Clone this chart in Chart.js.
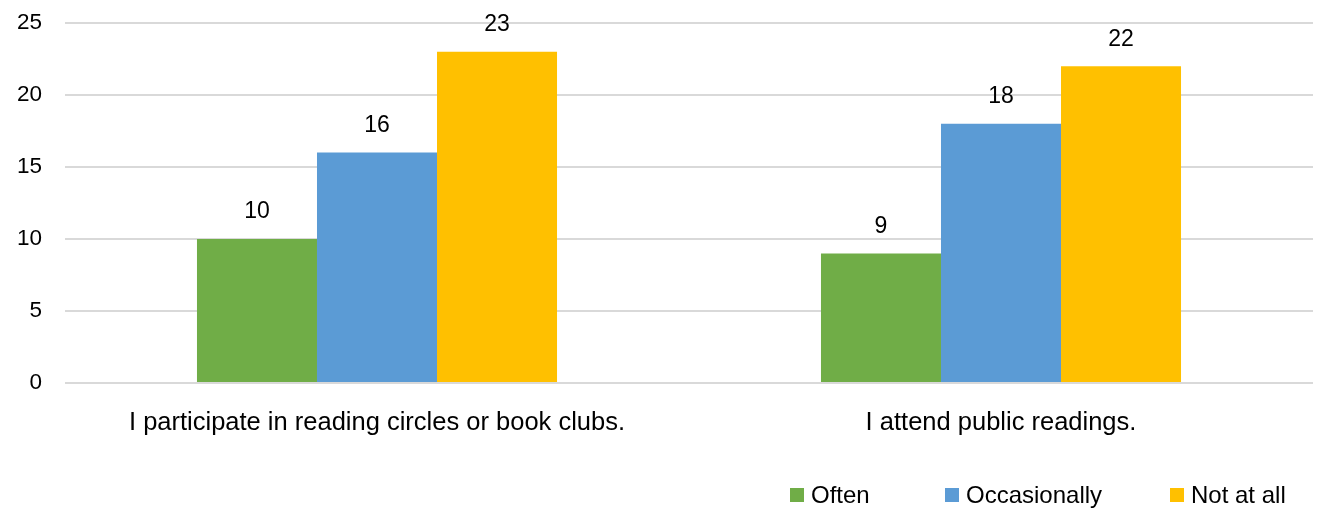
<!DOCTYPE html>
<html>
<head>
<meta charset="utf-8">
<script src="https://cdn.jsdelivr.net/npm/chart.js@4.4.0/dist/chart.umd.min.js"></script>
<style>
  html, body { margin: 0; padding: 0; background: #fff; }
  #wrap { width: 1320px; height: 509px; }
</style>
</head>
<body>
<div id="wrap"><canvas id="readingChart"></canvas></div>
<script>
// Dados
const categories = ['I participate in reading circles or book clubs.', 'I attend public readings.'];
const seriesNames = ['Often', 'Occasionally', 'Not at all'];
const oftenValues = [10, 9];
const occasionallyValues = [16, 18];
const notAtAllValues = [23, 22];
const yTicks = [0, 5, 10, 15, 20, 25];

const colors = ['#70AD47', '#5B9BD5', '#FFC000'];
const FONT = "'Liberation Sans Narrow', 'Arial Narrow', 'Liberation Sans', Arial, sans-serif";

// Rótulos de valor acima das barras
const valueLabels = {
    id: 'valueLabels',
    afterDatasetsDraw(chart) {
        const ctx = chart.ctx;
        ctx.save();
        ctx.font = '23px ' + FONT;
        ctx.fillStyle = '#000';
        ctx.textAlign = 'center';
        ctx.textBaseline = 'middle';
        chart.data.datasets.forEach((ds, i) => {
            chart.getDatasetMeta(i).data.forEach((bar, j) => {
                ctx.fillText(ds.data[j], bar.x, bar.y - 27);
            });
        });
        ctx.restore();
    }
};

// Legenda no canto inferior direito
const bottomLegend = {
    id: 'bottomLegend',
    afterDraw(chart) {
        const ctx = chart.ctx;
        const boxX = [790, 945, 1170];
        const y = 495;
        ctx.save();
        ctx.font = '24px ' + FONT;
        ctx.textBaseline = 'middle';
        ctx.textAlign = 'left';
        chart.data.datasets.forEach((ds, i) => {
            ctx.fillStyle = ds.backgroundColor;
            ctx.fillRect(boxX[i], y - 7, 14, 14);
            ctx.fillStyle = '#000';
            ctx.fillText(ds.label, boxX[i] + 21, y + 1);
        });
        ctx.restore();
    }
};

new Chart(document.getElementById('readingChart'), {
    type: 'bar',
    data: {
        labels: categories,
        datasets: [
            { label: seriesNames[0], data: oftenValues, backgroundColor: colors[0] },
            { label: seriesNames[1], data: occasionallyValues, backgroundColor: colors[1] },
            { label: seriesNames[2], data: notAtAllValues, backgroundColor: colors[2] }
        ]
    },
    options: {
        responsive: true,
        maintainAspectRatio: false,
        animation: false,
        layout: { padding: { top: 23, right: 7, bottom: 0, left: 0 } },
        datasets: {
            bar: { barPercentage: 1, categoryPercentage: 0.577, borderWidth: 0 }
        },
        plugins: {
            legend: { display: false },
            tooltip: { enabled: false }
        },
        scales: {
            x: {
                grid: { display: false, drawTicks: false },
                border: { display: false },
                ticks: {
                    color: '#000',
                    padding: 25,
                    font: { family: FONT, size: 25.5 },
                    maxRotation: 0
                },
                afterFit(scale) { scale.height = 126; }
            },
            y: {
                min: 0,
                max: 25,
                afterBuildTicks(scale) {
                    scale.ticks = yTicks.map(v => ({ value: v }));
                },
                grid: { color: '#D9D9D9', lineWidth: 2, drawTicks: false },
                border: { display: false },
                ticks: {
                    color: '#000',
                    padding: 23,
                    font: { family: FONT, size: 22.5 }
                },
                afterFit(scale) {
                    scale.width = 65;
                    scale.paddingTop = 0;
                    scale.paddingBottom = 0;
                }
            }
        }
    },
    plugins: [valueLabels, bottomLegend]
});
</script>
</body>
</html>
